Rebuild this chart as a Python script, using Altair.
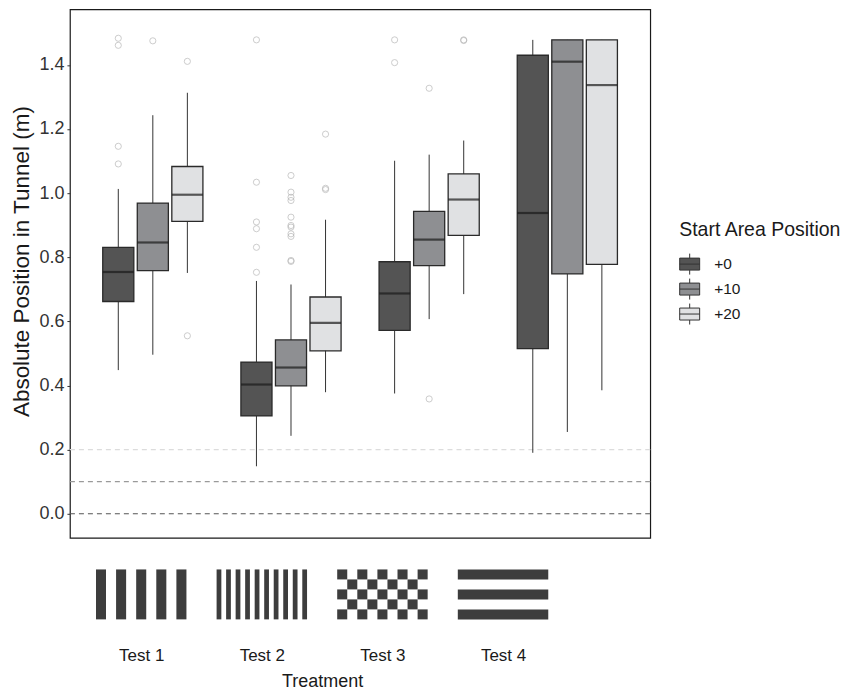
import altair as alt
import pandas as pd

# ---- data ----
tests = ["Test 1", "Test 2", "Test 3", "Test 4"]
positions = ["+0", "+10", "+20"]

box_test = ["Test 1"] * 3 + ["Test 2"] * 3 + ["Test 3"] * 3 + ["Test 4"] * 3
box_pos = positions * 4
lower = [0.448, 0.496, 0.751, 0.148, 0.243, 0.379, 0.375, 0.607, 0.685, 0.190, 0.255, 0.385]
q1 = [0.662, 0.758, 0.912, 0.305, 0.399, 0.508, 0.572, 0.774, 0.868, 0.515, 0.748, 0.778]
median = [0.754, 0.846, 0.995, 0.403, 0.456, 0.595, 0.687, 0.855, 0.980, 0.938, 1.410, 1.337]
q3 = [0.831, 0.969, 1.083, 0.473, 0.542, 0.676, 0.786, 0.943, 1.060, 1.430, 1.478, 1.478]
upper = [1.013, 1.243, 1.313, 0.726, 0.715, 0.917, 1.101, 1.120, 1.164, 1.478, 1.478, 1.478]

out_test = (["Test 1"] * 7 + ["Test 2"] * 20 + ["Test 3"] * 6)
out_pos = (["+0"] * 4 + ["+10"] * 1 + ["+20"] * 2
           + ["+0"] * 6 + ["+10"] * 11 + ["+20"] * 3
           + ["+0"] * 2 + ["+10"] * 2 + ["+20"] * 2)
out_value = ([1.483, 1.461, 1.146, 1.091, 1.475, 1.411, 0.555]
             + [1.478, 1.034, 0.910, 0.889, 0.831, 0.753,
                1.055, 1.003, 0.987, 0.977, 0.925, 0.899, 0.894, 0.873, 0.865, 0.790, 0.787,
                1.184, 1.015, 1.011]
             + [1.478, 1.407, 1.327, 0.358, 1.478, 1.476])

ref_levels = [0.0, 0.1, 0.2]

# stimulus icons: grid columns/rows and which cells are dark
icon_cols = [9, 19, 9, 1]
icon_rows = [1, 1, 5, 5]
icon_rule = ["col", "col", "checker", "row"]

box_df = pd.DataFrame({"test": box_test, "pos": box_pos, "lower": lower, "q1": q1,
                       "median": median, "q3": q3, "upper": upper})
out_df = pd.DataFrame({"test": out_test, "pos": out_pos, "value": out_value})
ref_df = pd.DataFrame({"level": ref_levels})

cells = []
for i, t in enumerate(tests):
    nc, nr, rule = icon_cols[i], icon_rows[i], icon_rule[i]
    for c in range(nc):
        for r in range(nr):
            if rule == "col":
                on = c % 2 == 0
            elif rule == "row":
                on = r % 2 == 0
            else:
                on = (c + r) % 2 == 0
            if on:
                x0 = i + 1 - 0.375 + c * 0.75 / nc
                cells.append({"x": x0, "x2": x0 + 0.75 / nc,
                              "y": 1 - r / nr, "y2": 1 - (r + 1) / nr})
icon_df = pd.DataFrame(cells)

FONT = "Liberation Sans"
fills = ["#545454", "#8e8f92", "#e0e1e3"]

yscale = alt.Scale(domain=[-0.075, 1.573], nice=False, zero=False)
xenc = alt.X("test:N", sort=tests, axis=None,
             scale=alt.Scale(paddingInner=0.25, paddingOuter=0.225))
xoff = alt.XOffset("pos:N", sort=positions,
                   scale=alt.Scale(paddingInner=0.1, paddingOuter=0.05))

refs = alt.Chart(ref_df).mark_rule(strokeDash=[5, 4], strokeWidth=1.2).encode(
    y=alt.Y("level:Q", scale=yscale,
            axis=alt.Axis(values=[0, 0.2, 0.4, 0.6, 0.8, 1.0, 1.2, 1.4], format=".1f",
                          grid=False, domain=False, tickSize=3, tickColor="#333",
                          labelFontSize=18, labelColor="#333", labelPadding=3,
                          title="Absolute Position in Tunnel (m)", titleFontSize=22.5,
                          titleFontWeight="normal", titleColor="#1a1a1a", titlePadding=5,
                          titleY=252)),
    color=alt.Color("level:O", scale=alt.Scale(domain=ref_levels,
                                              range=["#555555", "#9a9a9a", "#dcdcdc"]),
                    legend=None),
)

base = alt.Chart(box_df).encode(x=xenc, xOffset=xoff)

whiskers = base.mark_rule(color="#333333", strokeWidth=1).encode(
    y=alt.Y("lower:Q", scale=yscale), y2="upper:Q")

legend_path = "M-1,-0.6H1V0.6H-1Z M-1,0H1 M0,-0.6V-1.05 M0,0.6V1.05"
boxes = base.mark_bar(stroke="#2a2a2a", strokeWidth=1.3).encode(
    y=alt.Y("q1:Q", scale=yscale), y2="q3:Q",
    fill=alt.Fill("pos:N", sort=positions,
                  scale=alt.Scale(domain=positions, range=fills),
                  legend=alt.Legend(title="Start Area Position", orient="none",
                                    legendX=610, legendY=212,
                                    titleFontSize=19.5, titleFontWeight="normal",
                                    titleColor="#1a1a1a", titlePadding=13,
                                    labelFontSize=15.5, labelColor="#1a1a1a",
                                    symbolType=legend_path, symbolSize=400,
                                    symbolStrokeColor="#333333", symbolStrokeWidth=1,
                                    rowPadding=0, labelOffset=14)),
)

medians = base.mark_tick(color="#1a1a1a", thickness=2.2, size=31).encode(
    y=alt.Y("median:Q", scale=yscale))

outliers = alt.Chart(out_df).mark_point(shape="circle", filled=False, color="#b0b0b0",
                                        size=38, strokeWidth=0.9).encode(
    x=xenc, xOffset=xoff, y=alt.Y("value:Q", scale=yscale))

top = alt.layer(refs, whiskers, boxes, medians, outliers).properties(
    width=581, height=529,
    view=alt.ViewBackground(stroke="#1a1a1a", strokeWidth=1.2))

icons = alt.Chart(icon_df).mark_rect(color="#3d3d3d").encode(
    x=alt.X("x:Q", scale=alt.Scale(domain=[0.409, 4.591], nice=False, zero=False),
            axis=alt.Axis(values=[1, 2, 3, 4], labelExpr="'Test ' + datum.value",
                          grid=False, domain=False, ticks=False, labelFontSize=17,
                          labelColor="#1a1a1a", labelPadding=9,
                          title="Treatment", titleFontSize=18, titleFontWeight="normal",
                          titleColor="#1a1a1a", titlePadding=9)),
    x2="x2:Q",
    y=alt.Y("y:Q", scale=alt.Scale(domain=[-0.386, 1.414], nice=False, zero=False),
            axis=None),
    y2="y2:Q",
).properties(width=505, height=90, view=alt.ViewBackground(stroke=None))

chart = alt.vconcat(top, icons, spacing=10).properties(
    padding={"left": 2, "top": 0, "right": 0, "bottom": 0}
).configure(font=FONT).configure_view(stroke=None)

chart.save("out.html", embed_options={"renderer": "svg", "actions": False})
